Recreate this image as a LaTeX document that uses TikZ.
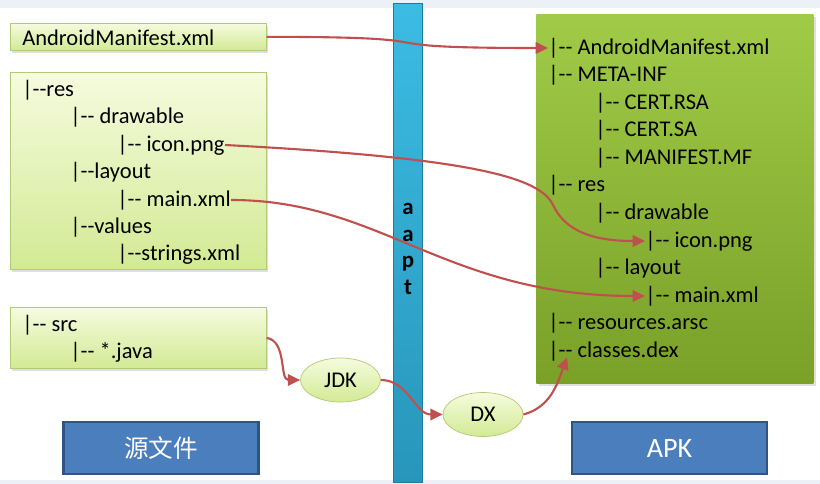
\documentclass[tikz,border=0pt]{standalone}
\usepackage{fontspec}
\setmainfont{Carlito}
\newfontfamily\cjk{Noto Sans CJK SC}
\usetikzlibrary{shapes.geometric, arrows.meta, shadows}

\definecolor{boxtop}{RGB}{246,251,222}
\definecolor{boxbot}{RGB}{210,234,148}
\definecolor{boxline}{RGB}{178,202,118}
\definecolor{apktop}{RGB}{160,203,72}
\definecolor{apkbot}{RGB}{122,160,40}
\definecolor{aapttop}{RGB}{60,188,228}
\definecolor{aaptbot}{RGB}{40,150,186}
\definecolor{aaptline}{RGB}{32,122,160}
\definecolor{labelblue}{RGB}{74,126,188}
\definecolor{labelline}{RGB}{48,84,132}
\definecolor{arrowred}{RGB}{192,80,77}
\definecolor{bgstrip}{RGB}{236,241,248}

\begin{document}
\begin{tikzpicture}[
        greenbox/.style={draw=boxline, top color=boxtop, bottom color=boxbot, anchor=north west, inner sep=0pt,
            drop shadow={shadow xshift=1pt, shadow yshift=-1.5pt, opacity=0.25}},
        tree/.style={anchor=west, inner sep=0pt, font=\fontsize{12.8}{15}\selectfont},
        tool/.style={ellipse, draw=boxline, top color=boxtop, bottom color=boxbot, minimum width=1.6cm,
            minimum height=0.88cm, inner sep=0pt, font=\fontsize{12.8}{15}\selectfont},
        caption/.style={draw=labelline, line width=1.5pt, fill=labelblue, text=white, minimum width=3.9cm,
            minimum height=1.04cm, inner sep=0pt},
        flow/.style={draw=arrowred, line width=1.2pt, -{Triangle[length=7pt,width=6.5pt]}}
    ]

        \useasboundingbox (0,0) rectangle (16.4,-9.68);
        \fill[bgstrip] (0,0) rectangle (16.4,-9.68);
        \fill[white] (0,-0.16) rectangle (16.4,-9.6);

        % aapt bar
        \node[draw=aaptline, top color=aapttop, bottom color=aaptbot, anchor=north west, inner sep=0pt,
            minimum width=0.58cm, minimum height=9.58cm] (aapt) at (7.86,-0.06) {};
        \node[font=\bfseries\fontsize{13}{15.2}\selectfont, align=center, inner sep=0pt] (aaptlbl) at (8.16,-4.98) {a\\a\\p\\t};

        % source side
        \node[greenbox, minimum width=5.12cm, minimum height=0.54cm] (manifestbox) at (0.2,-0.46) {};
        \node[tree] (manifestsrc) at (0.44,-0.75) {AndroidManifest.xml};

        \node[greenbox, minimum width=5.12cm, minimum height=3.94cm] (resbox) at (0.2,-1.44) {};
        \node[tree] (res) at (0.44,-1.80) {|-{}-res};
        \node[tree] (drawable) at (1.40,-2.34) {|-{}- drawable};
        \node[tree] (iconsrc) at (2.34,-2.90) {|-{}- icon.png};
        \node[tree] (layout) at (1.40,-3.44) {|-{}-layout};
        \node[tree] (mainsrc) at (2.34,-4.00) {|-{}- main.xml};
        \node[tree] (values) at (1.40,-4.54) {|-{}-values};
        \node[tree] (strings) at (2.34,-5.08) {|-{}-strings.xml};

        \node[greenbox, minimum width=5.12cm, minimum height=1.22cm] (srcbox) at (0.2,-6.14) {};
        \node[tree] (src) at (0.44,-6.50) {|-{}- src};
        \node[tree] (java) at (1.40,-7.04) {|-{}- *.java};

        \node[caption] (srclabel) at (3.22,-8.96) {\cjk\fontsize{14}{16}\selectfont 源文件};

        % apk side
        \node[top color=apktop, bottom color=apkbot, anchor=north west, inner sep=0pt, minimum width=5.54cm,
            minimum height=7.38cm, drop shadow={shadow xshift=1.5pt, shadow yshift=-1.5pt, opacity=0.25}] (apkbox) at (10.72,-0.28) {};
        \node[tree] (apkmanifest) at (10.96,-0.96) {|-{}- AndroidManifest.xml};
        \node[tree] (metainf) at (10.96,-1.50) {|-{}- META-INF};
        \node[tree] (certrsa) at (11.90,-2.06) {|-{}- CERT.RSA};
        \node[tree] (certsa) at (11.90,-2.60) {|-{}- CERT.SA};
        \node[tree] (manifestmf) at (11.90,-3.16) {|-{}- MANIFEST.MF};
        \node[tree] (apkres) at (10.96,-3.70) {|-{}- res};
        \node[tree] (apkdrawable) at (11.90,-4.26) {|-{}- drawable};
        \node[tree] (iconapk) at (12.90,-4.82) {|-{}- icon.png};
        \node[tree] (apklayout) at (11.90,-5.36) {|-{}- layout};
        \node[tree] (mainapk) at (12.90,-5.92) {|-{}- main.xml};
        \node[tree] (arsc) at (10.96,-6.46) {|-{}- resources.arsc};
        \node[tree] (classes) at (10.96,-7.02) {|-{}- classes.dex};

        \node[caption, font=\fontsize{16}{18}\selectfont] (apklabel) at (13.39,-8.96) {APK};

        % tools
        \node[tool] (jdk) at (6.81,-7.60) {JDK};
        \node[tool] (dx) at (9.66,-8.29) {DX};

        % arrows
        \coordinate (iconbend) at (11.06,-4.10);
        \draw[flow] (manifestbox.east) .. controls +(4.2,0) and +(-4.2,0) .. (apkmanifest.west);
        \draw[flow] (iconsrc.east) .. controls +(-3:5) and +(115:0.6) .. (iconbend)
            .. controls +(-65:0.6) and +(-1,0) .. (iconapk.west);
        \draw[flow] (mainsrc.east) .. controls +(3,0) and +(-4,0) .. (mainapk.west);
        \draw[flow] (srcbox.east) to[out=-10, in=180] (jdk.west);
        \draw[flow] (jdk.east) to[out=0, in=180] (dx.west);
        \draw[flow] (dx.east) to[out=15, in=-110] ([xshift=0.38cm]classes.base west);
    \end{tikzpicture}
\end{document}
